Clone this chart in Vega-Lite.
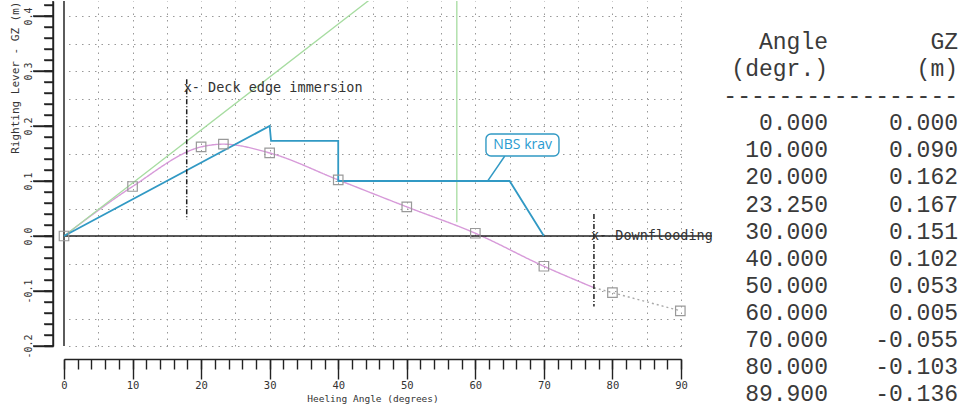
{
  "$schema": "https://vega.github.io/schema/vega-lite/v6.json",
  "background": "white",
  "padding": {"left": 8, "top": 0, "right": 0, "bottom": 0},
  "autosize": {"type": "pad"},
  "config": {"view": {"stroke": null}, "concat": {"spacing": 10}},
  "datasets": {
    "zero": [{"a": 0, "a2": 94.5, "v": 0}],
    "yminor": [
      {"v": -0.2}, {"v": -0.18}, {"v": -0.16}, {"v": -0.14}, {"v": -0.12}, {"v": -0.1}, {"v": -0.08}, {"v": -0.06}, {"v": -0.04}, {"v": -0.02},
      {"v": 0}, {"v": 0.02}, {"v": 0.04}, {"v": 0.06}, {"v": 0.08}, {"v": 0.1}, {"v": 0.12}, {"v": 0.14}, {"v": 0.16}, {"v": 0.18},
      {"v": 0.2}, {"v": 0.22}, {"v": 0.24}, {"v": 0.26}, {"v": 0.28}, {"v": 0.3}, {"v": 0.32}, {"v": 0.34}, {"v": 0.36}, {"v": 0.38},
      {"v": 0.4}, {"v": 0.42}
    ],
    "ymajor": [{"v": -0.2}, {"v": -0.1}, {"v": 0}, {"v": 0.1}, {"v": 0.2}, {"v": 0.3}, {"v": 0.4}],
    "points": [
      {"a": 0, "v": 0}, {"a": 10, "v": 0.09}, {"a": 20, "v": 0.162}, {"a": 23.25, "v": 0.167},
      {"a": 30, "v": 0.151}, {"a": 40, "v": 0.102}, {"a": 50, "v": 0.053}, {"a": 60, "v": 0.005},
      {"a": 70, "v": -0.055}, {"a": 80, "v": -0.103}, {"a": 89.9, "v": -0.136}
    ],
    "curve": [
      {"a": 0, "v": 0, "seg": "intact"}, {"a": 10, "v": 0.09, "seg": "intact"}, {"a": 20, "v": 0.162, "seg": "intact"},
      {"a": 23.25, "v": 0.167, "seg": "intact"}, {"a": 30, "v": 0.151, "seg": "intact"}, {"a": 40, "v": 0.102, "seg": "intact"},
      {"a": 50, "v": 0.053, "seg": "intact"}, {"a": 60, "v": 0.005, "seg": "intact"}, {"a": 70, "v": -0.055, "seg": "intact"},
      {"a": 77.3, "v": -0.094, "seg": "intact"},
      {"a": 77.3, "v": -0.094, "seg": "flooded"}, {"a": 80, "v": -0.103, "seg": "flooded"}, {"a": 89.9, "v": -0.136, "seg": "flooded"}
    ],
    "green": [
      {"a": 0, "v": 0, "s": "tangent"}, {"a": 57.3, "v": 0.552, "s": "tangent"},
      {"a": 57.3, "v": 0.025, "s": "gm"}, {"a": 57.3, "v": 0.552, "s": "gm"}
    ],
    "nbs": [
      {"a": 0, "v": 0}, {"a": 30, "v": 0.2}, {"a": 30.2, "v": 0.173}, {"a": 40, "v": 0.173},
      {"a": 40, "v": 0.1}, {"a": 65, "v": 0.1}, {"a": 70, "v": 0}
    ],
    "nbsbox": [{"a1": 61.55, "a2": 72.2, "v1": 0.1455, "v2": 0.1855, "la": 66.9, "lv": 0.1655, "label": "NBS krav"}],
    "leader": [{"a": 61.8, "v": 0.1}, {"a": 64.3, "v": 0.1455}],
    "markers": [
      {"a": 17.9, "v1": 0.285, "v2": 0.03, "tv": 0.269, "t": "x- Deck edge immersion"},
      {"a": 77.3, "v1": 0.04, "v2": -0.128, "tv": 0.0, "t": "x- Downflooding"}
    ],
    "table": [
      {"row": 0, "c1": "Angle\u00a0", "c2": "GZ\u00a0\u00a0\u00a0\u00a0"},
      {"row": 1, "c1": "(degr.)\u00a0", "c2": "(m)\u00a0\u00a0\u00a0"},
      {"row": 2, "c1": "", "c2": "-----------------"},
      {"row": 3, "c1": "0.000", "c2": "0.000"},
      {"row": 4, "c1": "10.000", "c2": "0.090"},
      {"row": 5, "c1": "20.000", "c2": "0.162"},
      {"row": 6, "c1": "23.250", "c2": "0.167"},
      {"row": 7, "c1": "30.000", "c2": "0.151"},
      {"row": 8, "c1": "40.000", "c2": "0.102"},
      {"row": 9, "c1": "50.000", "c2": "0.053"},
      {"row": 10, "c1": "60.000", "c2": "0.005"},
      {"row": 11, "c1": "70.000", "c2": "-0.055"},
      {"row": 12, "c1": "80.000", "c2": "-0.103"},
      {"row": 13, "c1": "89.900", "c2": "-0.136"}
    ]
  },
  "hconcat": [
    {
      "width": 617,
      "height": 345,
      "resolve": {"axis": {"x": "independent", "y": "independent"}},
      "layer": [
        {
          "data": {"name": "curve"},
          "mark": {"type": "line", "interpolate": "monotone", "strokeWidth": 1.4},
          "encoding": {
            "x": {
              "field": "a", "type": "quantitative",
              "scale": {"domain": [0, 90], "nice": false, "zero": false},
              "axis": {
                "orient": "top", "values": [5,10,15,20,25,30,35,40,45,50,55,60,65,70,75,80,85,90],
                "ticks": false, "labels": false, "domain": false, "title": null,
                "grid": true, "gridColor": "#999", "gridDash": [1.5, 5], "gridWidth": 1
              }
            },
            "y": {
              "field": "v", "type": "quantitative",
              "scale": {"domain": [-0.2, 0.4273], "nice": false, "zero": false},
              "axis": {
                "orient": "right", "values": [-0.2,-0.15,-0.1,-0.05,0,0.05,0.1,0.15,0.2,0.25,0.3,0.35,0.4],
                "ticks": false, "labels": false, "domain": false, "title": null,
                "grid": true, "gridColor": "#999", "gridDash": [1.5, 5], "gridWidth": 1
              }
            },
            "color": {"field": "seg", "type": "nominal", "scale": {"domain": ["intact", "flooded"], "range": ["#d79ad9", "#aaaaaa"]}, "legend": null},
            "strokeDash": {"field": "seg", "type": "nominal", "scale": {"domain": ["intact", "flooded"], "range": [[1, 0], [2, 3]]}, "legend": null},
            "order": {"value": null}
          }
        },
        {
          "data": {"name": "zero"},
          "mark": {"type": "rule", "color": "#222", "strokeWidth": 1.4},
          "encoding": {
            "x": {"field": "a", "type": "quantitative", "axis": null},
            "x2": {"field": "a2"},
            "y": {"field": "v", "type": "quantitative", "axis": null}
          }
        },
        {
          "data": {"name": "zero"},
          "mark": {"type": "rule", "color": "#333", "strokeWidth": 1.6},
          "encoding": {"x": {"datum": 0, "type": "quantitative", "axis": null}}
        },
        {
          "data": {"name": "green"},
          "mark": {"type": "line", "color": "#a6dca0", "strokeWidth": 1.3, "clip": true},
          "encoding": {
            "x": {"field": "a", "type": "quantitative", "axis": null},
            "y": {"field": "v", "type": "quantitative", "axis": null},
            "detail": {"field": "s"},
            "order": {"value": null}
          }
        },
        {
          "data": {"name": "nbs"},
          "mark": {"type": "line", "color": "#3199c4", "strokeWidth": 1.8},
          "encoding": {
            "x": {
              "field": "a", "type": "quantitative",
              "axis": {
                "orient": "bottom", "values": [0,2,4,6,8,10,12,14,16,18,20,22,24,26,28,30,32,34,36,38,40,42,44,46,48,50,52,54,56,58,60,62,64,66,68,70,72,74,76,78,80,82,84,86,88,90],
                "offset": 13, "tickSize": 10, "labels": false, "title": null, "grid": false,
                "domainColor": "#222", "domainWidth": 1.4, "tickColor": "#222", "tickWidth": 1.4
              }
            },
            "y": {
              "field": "v", "type": "quantitative",
              "axis": {
                "orient": "left", "values": [-0.2,-0.18,-0.16,-0.14,-0.12,-0.1,-0.08,-0.06,-0.04,-0.02,0,0.02,0.04,0.06,0.08,0.1,0.12,0.14,0.16,0.18,0.2,0.22,0.24,0.26,0.28,0.3,0.32,0.34,0.36,0.38,0.4,0.42],
                "offset": 11, "tickSize": 9, "labels": false, "title": null, "grid": false, "zindex": 1,
                "domainColor": "#222", "domainWidth": 1.4, "tickColor": "#222", "tickWidth": 1.4
              }
            },
            "order": {"value": null}
          }
        },
        {
          "data": {"name": "leader"},
          "mark": {"type": "line", "color": "#3199c4", "strokeWidth": 1.4},
          "encoding": {
            "x": {"field": "a", "type": "quantitative", "axis": null},
            "y": {"field": "v", "type": "quantitative", "axis": null}
          }
        },
        {
          "data": {"name": "nbsbox"},
          "mark": {"type": "rect", "fill": "white", "stroke": "#3199c4", "strokeWidth": 1.4, "cornerRadius": 5},
          "encoding": {
            "x": {"field": "a1", "type": "quantitative", "axis": null},
            "x2": {"field": "a2"},
            "y": {"field": "v1", "type": "quantitative", "axis": null},
            "y2": {"field": "v2"}
          }
        },
        {
          "data": {"name": "nbsbox"},
          "mark": {"type": "text", "color": "#2a9bd0", "font": "Open Sans", "fontSize": 14, "align": "center", "baseline": "middle"},
          "encoding": {
            "x": {"field": "la", "type": "quantitative", "axis": null},
            "y": {"field": "lv", "type": "quantitative", "axis": null},
            "text": {"field": "label"}
          }
        },
        {
          "data": {"name": "points"},
          "mark": {"type": "point", "shape": "square", "filled": false, "size": 90, "color": "#999", "strokeWidth": 1.2, "opacity": 1},
          "encoding": {
            "x": {
              "field": "a", "type": "quantitative",
              "axis": {
                "orient": "bottom", "values": [0,10,20,30,40,50,60,70,80,90],
                "offset": 13, "tickSize": 20, "domain": false, "grid": false,
                "tickColor": "#222", "tickWidth": 1.4,
                "labelFont": "DejaVu Sans Mono", "labelFontSize": 10.5, "labelColor": "#333", "labelPadding": 1, "labelFlush": false,
                "title": "Heeling Angle (degrees)",
                "titleFont": "DejaVu Sans Mono", "titleFontSize": 9.5, "titleFontWeight": "normal", "titleColor": "#333", "titlePadding": 3
              }
            },
            "y": {
              "field": "v", "type": "quantitative",
              "axis": {
                "orient": "left", "values": [-0.2,-0.1,0,0.1,0.2,0.3,0.4],
                "offset": 11, "tickSize": 20, "domain": false, "grid": false, "zindex": 1,
                "tickColor": "#222", "tickWidth": 1.4,
                "format": ".1f", "labelExpr": "replace(datum.label, '\u2212', '-')",
                "labelAngle": 270, "labelFlush": false,
                "labelFont": "DejaVu Sans Mono", "labelFontSize": 10, "labelColor": "#333", "labelPadding": 0,
                "title": "Righting Lever - GZ (m)",
                "titleFont": "DejaVu Sans Mono", "titleFontSize": 11, "titleFontWeight": "normal", "titleColor": "#333",
                "titleAnchor": "end", "titlePadding": 3
              }
            }
          }
        },
        {
          "data": {"name": "markers"},
          "mark": {"type": "rule", "color": "#222", "strokeWidth": 1.5, "strokeDash": [5, 2, 1, 2]},
          "encoding": {
            "x": {"field": "a", "type": "quantitative", "axis": null},
            "y": {"field": "v1", "type": "quantitative", "axis": null},
            "y2": {"field": "v2"}
          }
        },
        {
          "data": {"name": "markers"},
          "mark": {"type": "text", "align": "left", "baseline": "middle", "dx": -3, "font": "DejaVu Sans Mono", "fontSize": 13.5, "color": "#333"},
          "encoding": {
            "x": {"field": "a", "type": "quantitative", "axis": null},
            "y": {"field": "tv", "type": "quantitative", "axis": null},
            "text": {"field": "t"}
          }
        },
        {
          "data": {"name": "yminor"},
          "mark": {"type": "rule", "color": "#222", "strokeWidth": 1.4},
          "encoding": {
            "x": {"datum": -1.604, "type": "quantitative", "axis": null},
            "x2": {"datum": -2.917},
            "y": {"field": "v", "type": "quantitative", "axis": null}
          }
        },
        {
          "data": {"name": "ymajor"},
          "mark": {"type": "rule", "color": "#222", "strokeWidth": 1.4},
          "encoding": {
            "x": {"datum": -1.604, "type": "quantitative", "axis": null},
            "x2": {"datum": -4.52},
            "y": {"field": "v", "type": "quantitative", "axis": null}
          }
        },
        {
          "data": {"name": "zero"},
          "mark": {"type": "rule", "color": "#222", "strokeWidth": 1.4},
          "encoding": {
            "x": {"datum": -1.604, "type": "quantitative", "axis": null},
            "y": {"datum": -0.2, "type": "quantitative", "axis": null},
            "y2": {"datum": 0.4273}
          }
        }
      ]
    },
    {
      "width": 235,
      "height": 407,
      "data": {"name": "table"},
      "layer": [
        {
          "mark": {"type": "text", "align": "right", "baseline": "middle", "font": "Liberation Mono", "fontSize": 23, "color": "#3a3a3a"},
          "encoding": {
            "x": {"datum": "Angle", "type": "nominal", "scale": {"type": "point", "domain": ["Angle", "GZ"], "padding": 0.4038, "align": 1}, "axis": null},
            "y": {"field": "row", "type": "ordinal", "scale": {"type": "point", "padding": 1.037, "align": 0.75}, "axis": null},
            "text": {"field": "c1"}
          }
        },
        {
          "mark": {"type": "text", "align": "right", "baseline": "middle", "font": "Liberation Mono", "fontSize": 23, "color": "#3a3a3a"},
          "encoding": {
            "x": {"datum": "GZ", "type": "nominal", "axis": null},
            "y": {"field": "row", "type": "ordinal", "axis": null},
            "text": {"field": "c2"}
          }
        }
      ]
    }
  ]
}
